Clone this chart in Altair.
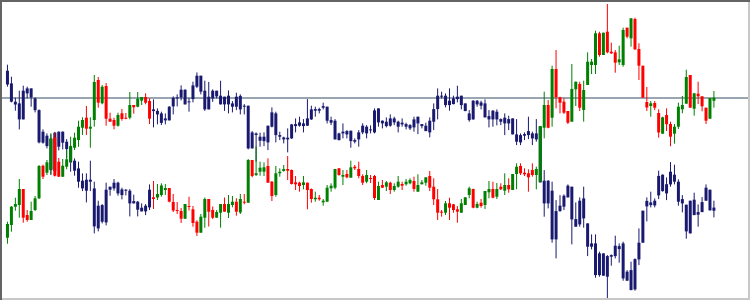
import altair as alt
import pandas as pd

# Candle data (price levels), one value per session
open_ = [62.3, 75, 93.3, 95, 111, 85, 80, 90, 101.7, 134.3,
         127.3, 130.7, 162.7, 138.3, 123.3, 133.3, 139, 152.3, 160, 172.3,
         182.3, 171.3, 180, 220, 196.7, 214, 181.3, 180, 174.3, 186.7,
         182.3, 182.3, 195, 193.3, 199.3, 203, 199, 102.7, 102.5, 105,
         110, 112, 98, 90, 89, 81.3, 94, 90.7, 78.3, 67.3,
         82.3, 101, 90, 82.3, 87.3, 96, 87.3, 95, 98.3, 87.5,
         98.3, 97.3, 140, 125, 128.3, 128.3, 134, 118.3, 105, 126.7,
         129, 131, 130, 117.7, 117.3, 115, 117.3, 111, 100.7, 102.3,
         97.7, 98.3, 111.7, 112.3, 131.7, 123.3, 126, 122.3, 133.3, 131,
         124, 118.3, 122, 124, 100, 115, 113.3, 117.3, 110, 113.3,
         116, 115.7, 116.7, 119, 108.3, 115.7, 117.3, 124, 113.3, 100.7,
         88.3, 87.3, 96.7, 95.7, 90.7, 87.3, 95, 105, 111, 92.3,
         97.3, 95, 107.7, 111, 103.3, 113.3, 109.3, 115, 110, 126,
         134, 127.3, 126.7, 130, 125, 118.3, 172.3, 195, 182.3, 231,
         202.7, 198.3, 189, 178.3, 210.7, 216, 190, 215, 235, 235,
         266.7, 245, 268.3, 248.3, 247.7, 237.7, 235, 272.3, 261.7, 281,
         251, 234.3, 198, 194, 197, 187, 166.3, 185, 176, 166.3,
         173.3, 190.7, 196.3, 225, 191.3, 206.3, 203.7, 192.3, 181.3, 199.2]

high = [78.3, 94, 102.3, 121, 111, 90, 98.3, 104, 135, 135.3,
        140, 166.7, 167.3, 142, 141, 150, 163.3, 167.3, 179.3, 182.7,
        194, 182.7, 225, 223, 215, 217, 187.3, 182.3, 187.3, 191,
        187, 208, 195, 208, 203, 206.7, 201.7, 119, 116, 116.7,
        116, 112, 106, 98, 92, 96, 103.3, 94, 79.7, 86,
        102.5, 101, 93.5, 90, 96, 102.5, 105, 104, 101.7, 106,
        106, 141, 140, 153.3, 138.3, 137.7, 141.7, 119, 134, 131.7,
        135, 144, 130.5, 124, 118.3, 124, 117.5, 111.5, 108.3, 105,
        101, 115, 116.7, 131, 132, 130, 130, 139.3, 135, 138.3,
        125.7, 130, 125, 125, 118.3, 120, 119, 118.3, 116.7, 124,
        118.3, 121, 121.7, 123.3, 125.7, 120, 122.7, 129, 121.7, 111,
        90, 99, 102.3, 96, 94, 101, 102.7, 113.3, 111.3, 98.3,
        101, 109, 119, 118.3, 117, 116.7, 126.7, 121.7, 126, 136.7,
        136.7, 131.7, 130.7, 136.7, 133.3, 174, 208.3, 200, 234.3, 250,
        203.3, 201.7, 189, 236, 218.3, 218.3, 219.3, 247.7, 241, 269.3,
        268.3, 267.3, 296, 257.3, 250, 254.3, 272.3, 272.3, 281.7, 282.3,
        256.7, 234.3, 213, 199, 199, 190.7, 183.3, 191.7, 178.3, 176,
        197.3, 204, 230.3, 225, 206.7, 218.3, 203.7, 192.3, 202, 209]

low = [56.3, 68.3, 89.3, 82.3, 77.3, 78.3, 80, 89, 101, 121,
       125, 126, 123.5, 123, 123, 130.7, 137, 150, 153.3, 165,
       165, 152.3, 173.3, 192.3, 195.7, 174.3, 178.3, 170.7, 173.3, 179.3,
       180.7, 180.7, 186.3, 192.7, 195, 195.7, 176, 91, 100, 103.3,
       105, 97.7, 88, 86, 77, 81, 89.5, 73.3, 64, 67.3,
       72.3, 73.5, 81, 82.3, 72.3, 88.3, 82, 92.7, 84.3, 86,
       95.7, 97.3, 122.7, 124, 124.3, 124, 117.3, 99, 103.3, 123.3,
       128.3, 120, 115.5, 110, 108.3, 110.7, 90.7, 97.3, 98.3, 99.3,
       94.3, 98.3, 108.3, 110.7, 124.3, 115, 121.7, 122.3, 130, 121.7,
       115, 116.7, 117, 100, 100, 112, 109, 106, 108.3, 112.3,
       110, 114.3, 115.7, 108.3, 108.3, 115.7, 114.3, 109, 95, 80,
       83.3, 85, 80, 87.3, 77.3, 87.3, 95, 101.7, 91.7, 91.7,
       92.3, 91, 101.7, 101.7, 101, 110, 105, 107.3, 110, 110.7,
       125, 124, 108.3, 123.3, 110.7, 118.3, 161.7, 171.7, 173.3, 191.7,
       186.7, 186, 176, 178.3, 194, 189, 178.3, 215, 226, 226,
       243.3, 245, 246.7, 246, 227.3, 235, 233.3, 261.7, 253.3, 250,
       220, 202.3, 189, 183.3, 190, 162.3, 166, 169, 153.7, 156.3,
       171, 186.7, 196.3, 192.3, 184.3, 196, 188.7, 176, 181.3, 192.3]

close = [76, 93.3, 96, 111, 82.3, 80, 89, 101.7, 134, 123.3,
         137.7, 161.7, 124.3, 123.3, 134.3, 140.7, 154, 162.3, 173.3, 180,
         171.3, 173.3, 218, 197.3, 213.3, 181.3, 178.3, 174.3, 185, 181,
         181.3, 195, 192.7, 201.3, 203, 197.3, 181.3, 101, 106, 114.5,
         112, 98.3, 89.5, 89, 81.3, 96, 93, 77, 67.3, 83.3,
         101, 88.3, 82.3, 88, 96, 88.3, 96, 98.3, 88.3, 101,
         97.3, 140, 124, 126.7, 132.3, 132.7, 117.3, 104, 126.7, 128.3,
         131, 129.3, 116, 115.7, 114, 117.7, 110, 101, 102.3, 100.7,
         99.3, 112.3, 114.3, 131, 125, 125, 122.7, 132.7, 131.7, 124,
         117.3, 125, 121, 102, 114, 112.3, 117.7, 110, 114, 118.3,
         114.3, 118.3, 120, 111, 115, 117.7, 122.7, 112.3, 100.7, 87.3,
         87.3, 96.7, 92.3, 90, 88.3, 96.7, 102.7, 111.7, 92.3, 96,
         94, 109, 111, 102.3, 111, 110.7, 115, 110.7, 126, 133.3,
         126.7, 125.7, 122.7, 125, 131, 174, 195, 172.3, 231, 202.7,
         197.3, 187.3, 177.3, 211, 218.3, 192.3, 210, 238.3, 238.3, 266.7,
         245, 267.3, 247.7, 246.7, 237.3, 240.7, 270, 263.3, 281.7, 250.7,
         234.3, 202.3, 192.5, 196.7, 192.3, 167.5, 182.7, 175.8, 163.3, 173.3,
         193.3, 195, 223, 192.3, 206.7, 203.7, 193.7, 179.3, 202, 202.3]

# The navy series is the inverted (mirrored) instrument of the coloured one
mirror_sum = 291.6
guide_levels = [202]

NAVY = "#191970"
UP = "#008000"
DOWN = "#ff0000"

df = pd.DataFrame({
    "i": list(range(len(open_))),
    "open": open_, "high": high, "low": low, "close": close,
})
df["dir"] = ["up" if c >= o else "down" for o, c in zip(open_, close)]

xs = alt.Scale(domain=[-0.625, 186.875])
ys = alt.Scale(domain=[0, 300])

base = alt.Chart(df).encode(x=alt.X("i:Q", scale=xs, axis=None))

navy = base.transform_calculate(
    n_open=f"{mirror_sum} - datum.open",
    n_close=f"{mirror_sum} - datum.close",
    n_high=f"{mirror_sum} - datum.low",
    n_low=f"{mirror_sum} - datum.high",
)
navy_wick = navy.mark_rule(color=NAVY, strokeWidth=1).encode(
    y=alt.Y("n_low:Q", scale=ys, axis=None), y2="n_high:Q")
navy_body = navy.mark_bar(size=3, color=NAVY).encode(
    y=alt.Y("n_open:Q", scale=ys, axis=None), y2="n_close:Q")

col = alt.Color("dir:N", scale=alt.Scale(domain=["up", "down"], range=[UP, DOWN]), legend=None)
wick = base.mark_rule(strokeWidth=1).encode(
    y=alt.Y("low:Q", scale=ys, axis=None), y2="high:Q", color=col)
body = base.mark_bar(size=3).encode(
    y=alt.Y("open:Q", scale=ys, axis=None), y2="close:Q", color=col)

guide = alt.Chart(pd.DataFrame({"level": guide_levels})).mark_rule(
    color="#778899", strokeWidth=1.5).encode(
    y=alt.Y("level:Q", scale=ys, axis=None))

frame_df = pd.DataFrame({"k": [0]})
top = alt.Chart(frame_df).mark_rule(color="#646464", strokeWidth=2).encode(
    x=alt.value(0), x2=alt.value(750), y=alt.value(1))
left = alt.Chart(frame_df).mark_rule(color="#646464", strokeWidth=2).encode(
    x=alt.value(1), y=alt.value(0), y2=alt.value(300))
bottom = alt.Chart(frame_df).mark_rule(color="#c8c8c8", strokeWidth=2).encode(
    x=alt.value(2), x2=alt.value(750), y=alt.value(299))
right = alt.Chart(frame_df).mark_rule(color="#c8c8c8", strokeWidth=2).encode(
    x=alt.value(749), y=alt.value(2), y2=alt.value(300))

chart = alt.layer(
    guide, navy_wick, navy_body, wick, body, top, left, bottom, right
).properties(
    width=750, height=300,
    autosize=alt.AutoSizeParams(type="none"),
    padding=0,
    background="white",
).configure_view(stroke=None)

chart.save("out.html", embed_options={"renderer": "svg", "actions": False})
